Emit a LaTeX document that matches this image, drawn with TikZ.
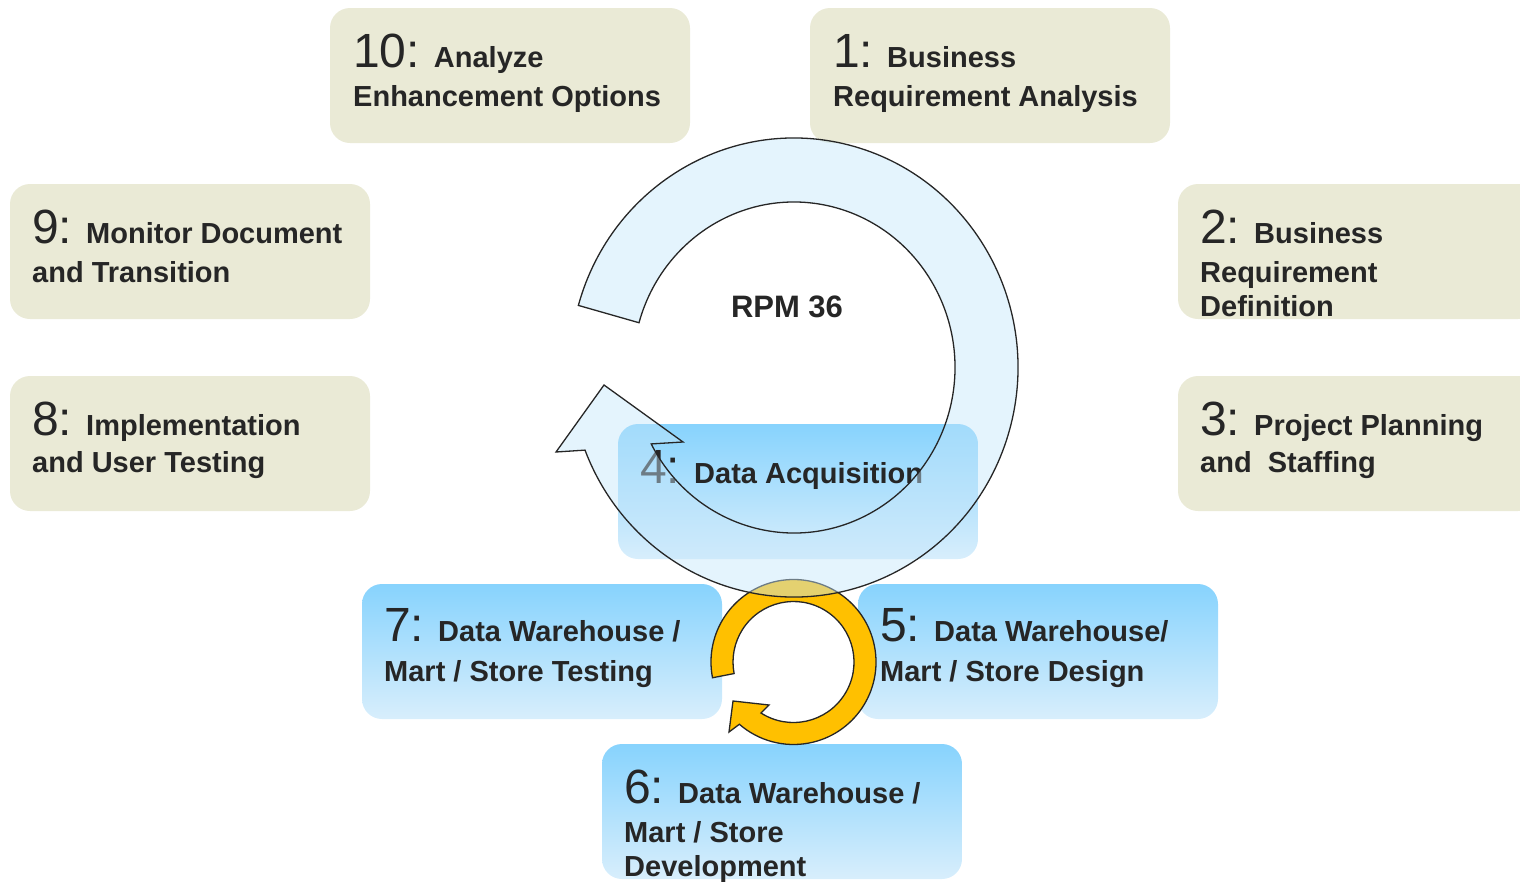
\documentclass[tikz,border=0pt]{standalone}
\usepackage{fontspec}
\setmainfont{Liberation Sans}
\definecolor{beige}{HTML}{EAEAD6}
\definecolor{btop}{HTML}{87D3FD}
\definecolor{bbot}{HTML}{D8EEFC}
\definecolor{ink}{HTML}{262626}
\definecolor{gold}{HTML}{FFC000}
\definecolor{patt}{HTML}{C4E6FA}
\newcommand\bignum[1]{{\fontsize{48}{48}\selectfont\mdseries #1}\hspace{14pt}}
\newcommand\lines[1]{\begin{tabular}[t]{@{}l@{}}#1\end{tabular}}
\tikzset{
  boxbase/.style={rectangle, rounded corners=20pt, minimum width=360pt, minimum height=135pt, inner sep=0pt, draw=none},
  beigebox/.style={boxbase, fill=beige},
  bluebox/.style={boxbase, top color=btop, bottom color=bbot},
  lbl/.style={anchor=base west, inner sep=0pt, text=ink, font=\fontsize{29}{34}\selectfont\bfseries},
  bigarrow/.style={draw=ink, line width=1.3pt, fill=patt, fill opacity=0.45, line join=miter},
  goldarrow/.style={draw=ink, line width=1.3pt, fill=gold, line join=miter}
}
\begin{document}
\begin{tikzpicture}[x=1pt, y=-1pt]
\clip (0,0) rectangle (1520,881);
\useasboundingbox (0,0) rectangle (1520,881);
% boxes
\node[beigebox] (b10) at (510,75.5) {};
\node[beigebox] (b1) at (990,75.5) {};
\node[beigebox] (b9) at (190,251.5) {};
\node[beigebox] (b2) at (1358,251.5) {};
\node[beigebox] (b8) at (190,443.5) {};
\node[beigebox] (b3) at (1358,443.5) {};
\node[bluebox] (b4) at (798,491.5) {};
\node[bluebox] (b7) at (542,651.5) {};
\node[bluebox] (b5) at (1038,651.5) {};
\node[bluebox] (b6) at (782,811.5) {};
% labels
\node[lbl] (t10) at (353,67) {\lines{\bignum{10:}Analyze\\[5pt] Enhancement Options}};
\node[lbl] (t1) at (833,67) {\lines{\bignum{1:}Business\\[5pt] Requirement Analysis}};
\node[lbl] (t9) at (32,243) {\lines{\bignum{9:}Monitor Document\\[5pt] and Transition}};
\node[lbl] (t2) at (1200,243) {\lines{\bignum{2:}Business\\[5pt] Requirement\\ Definition}};
\node[lbl] (t8) at (32,435) {\lines{\bignum{8:}Implementation\\[3pt] and User Testing}};
\node[lbl] (t3) at (1200,435) {\lines{\bignum{3:}Project Planning\\[3pt] and~~Staffing}};
\node[lbl] (t4) at (640,483) {\lines{\bignum{4:}Data Acquisition}};
\node[lbl] (t7) at (384,641) {\lines{\bignum{7:}Data Warehouse /\\[6pt] Mart / Store Testing}};
\node[lbl] (t5) at (880,641) {\lines{\bignum{5:}Data Warehouse/\\[6pt] Mart / Store Design}};
\node[lbl] (t6) at (624,803) {\lines{\bignum{6:}Data Warehouse /\\[5pt] Mart / Store\\ Development}};
% small gold circular arrow
\draw[goldarrow] ([shift={(793.5,662)}]169:82.5) arc[start angle=169, end angle=491, radius=82.5]
  -- (729,732) -- (733,701) -- (769,705)
  -- ([shift={(793.5,662)}]482.5:60.5) arc[start angle=482.5, end angle=169, radius=60.5] -- cycle;
% big circular arrow
\draw[bigarrow] ([shift={(794,367.5)}]195.7:224 and 229.5) arc[start angle=195.7, end angle=518.9, x radius=224, y radius=229.5]
  -- (556,452) -- (604,385) -- (683,442)
  -- ([shift={(794,367.5)}]512.5:161 and 165.5) arc[start angle=512.5, end angle=195.7, x radius=161, y radius=165.5] -- cycle;
\node[anchor=base, inner sep=0pt, text=ink, font=\fontsize{31}{31}\selectfont\bfseries] (rpm) at (787,317) {RPM 36};
\end{tikzpicture}
\end{document}
